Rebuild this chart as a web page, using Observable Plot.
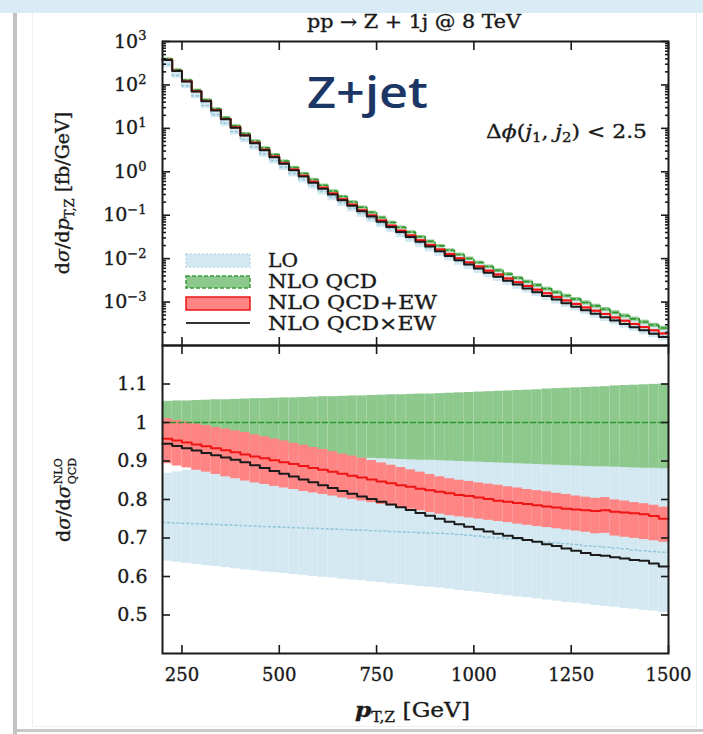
<!DOCTYPE html>
<html><head><meta charset="utf-8">
<script src="https://cdn.jsdelivr.net/npm/d3@7"></script>
<script src="https://cdn.jsdelivr.net/npm/@observablehq/plot@0.6"></script>
<style>
html,body{margin:0;padding:0;background:#fff;}
#wrap{position:relative;width:703px;height:734px;overflow:hidden;background:#fff;}
.band-top{position:absolute;left:0;top:0;width:703px;height:13px;background:#d9ecf6;}
.bar-left{position:absolute;left:13px;top:13px;width:4px;height:721px;background:#c2c2c2;}
.card{position:absolute;left:32px;top:13px;width:663px;height:713px;border:1px solid #efefef;border-top:none;}
.bar-bottom{position:absolute;left:17px;top:729px;width:686px;height:3px;background:#c8c8c8;}
#wrap svg{position:absolute;left:0;}
#wrap svg text{stroke:#1a1a1a;stroke-width:0.35px;}
#wrap svg text.nostroke{stroke:none;}
</style></head><body>
<div id="wrap"><div class="band-top"></div><div class="bar-left"></div><div class="card"></div><div class="bar-bottom"></div></div>
<script>
// ---- data ----
const binEdges = [200,225,250,275,300,325,350,375,400,425,450,475,500,525,550,575,600,625,650,675,700,725,750,775,800,825,850,875,900,925,950,975,1000,1025,1050,1075,1100,1125,1150,1175,1200,1225,1250,1275,1300,1325,1350,1375,1400,1425,1450,1475,1500];
// NLO QCD differential cross section [fb/GeV], per bin
const nloQcd = [398,224,129,75.9,45.7,28.2,17.8,11.5,7.59,5.13,3.55,2.48,1.76,1.26,0.912,0.665,0.489,0.361,0.269,0.202,0.152,0.116,0.0887,0.0682,0.0527,0.0409,0.0319,0.0250,0.0197,0.0156,0.0125,0.0101,0.00815,0.00661,0.00538,0.00440,0.00361,0.00296,0.00245,0.00203,0.00168,0.00140,0.00117,0.000975,0.000817,0.000685,0.000577,0.000486,0.000411,0.000348,0.000296,0.000252];
// ratios to NLO QCD
const ratioNloCentral = [1,1,1,1,1,1,1,1,1,1,1,1,1,1,1,1,1,1,1,1,1,1,1,1,1,1,1,1,1,1,1,1,1,1,1,1,1,1,1,1,1,1,1,1,1,1,1,1,1,1,1,1];
const ratioNloHigh = [1.055,1.056,1.056,1.057,1.058,1.059,1.059,1.060,1.061,1.062,1.062,1.063,1.064,1.064,1.065,1.066,1.067,1.067,1.068,1.069,1.069,1.070,1.071,1.072,1.072,1.073,1.074,1.074,1.075,1.076,1.077,1.078,1.079,1.080,1.081,1.082,1.083,1.084,1.085,1.087,1.088,1.089,1.090,1.091,1.092,1.093,1.095,1.096,1.097,1.098,1.099,1.100];
const ratioNloLow = [0.935,0.933,0.932,0.930,0.929,0.928,0.926,0.925,0.923,0.922,0.920,0.919,0.917,0.916,0.915,0.913,0.912,0.910,0.909,0.908,0.907,0.907,0.906,0.905,0.904,0.903,0.902,0.902,0.901,0.900,0.899,0.898,0.897,0.896,0.895,0.894,0.893,0.892,0.891,0.890,0.889,0.888,0.887,0.886,0.885,0.885,0.884,0.883,0.882,0.881,0.881,0.880];
const ratioLoCentral = [0.740,0.739,0.738,0.737,0.736,0.735,0.734,0.733,0.732,0.731,0.730,0.729,0.728,0.727,0.726,0.725,0.724,0.723,0.722,0.721,0.720,0.719,0.718,0.717,0.716,0.715,0.714,0.713,0.712,0.711,0.709,0.707,0.705,0.702,0.700,0.698,0.696,0.694,0.691,0.689,0.687,0.685,0.683,0.680,0.678,0.676,0.674,0.672,0.669,0.667,0.665,0.663];
const ratioLoHigh = [0.868,0.872,0.876,0.879,0.882,0.885,0.888,0.891,0.894,0.897,0.899,0.901,0.903,0.905,0.906,0.907,0.908,0.909,0.910,0.910,0.911,0.911,0.912,0.912,0.913,0.913,0.913,0.914,0.914,0.914,0.915,0.915,0.915,0.916,0.916,0.916,0.917,0.917,0.917,0.918,0.918,0.918,0.918,0.919,0.919,0.919,0.919,0.920,0.920,0.920,0.920,0.920];
const ratioLoLow = [0.640,0.637,0.634,0.631,0.628,0.626,0.623,0.620,0.617,0.615,0.612,0.610,0.608,0.605,0.603,0.600,0.598,0.596,0.593,0.591,0.589,0.586,0.584,0.581,0.579,0.577,0.574,0.572,0.570,0.567,0.564,0.561,0.559,0.556,0.553,0.550,0.547,0.545,0.542,0.539,0.536,0.533,0.531,0.528,0.525,0.522,0.520,0.517,0.515,0.512,0.510,0.507];
const ratioAddCentral = [0.958,0.953,0.948,0.943,0.938,0.933,0.928,0.923,0.917,0.912,0.907,0.902,0.897,0.892,0.887,0.882,0.877,0.872,0.867,0.862,0.857,0.852,0.847,0.842,0.837,0.833,0.828,0.824,0.820,0.816,0.812,0.809,0.805,0.801,0.797,0.794,0.791,0.788,0.785,0.782,0.779,0.776,0.774,0.772,0.770,0.772,0.768,0.766,0.764,0.762,0.757,0.750];
const ratioAddHigh = [1.010,1.005,1.001,0.996,0.992,0.987,0.983,0.978,0.974,0.968,0.963,0.957,0.952,0.946,0.941,0.935,0.930,0.924,0.918,0.913,0.907,0.901,0.895,0.889,0.883,0.877,0.871,0.865,0.859,0.854,0.850,0.847,0.843,0.840,0.837,0.833,0.830,0.826,0.823,0.820,0.816,0.813,0.809,0.806,0.803,0.805,0.799,0.796,0.792,0.789,0.785,0.780];
const ratioAddLow = [0.893,0.887,0.882,0.876,0.871,0.865,0.859,0.854,0.848,0.843,0.839,0.834,0.830,0.826,0.821,0.817,0.813,0.809,0.804,0.800,0.796,0.792,0.787,0.783,0.779,0.775,0.771,0.766,0.762,0.758,0.755,0.752,0.749,0.746,0.743,0.740,0.736,0.733,0.730,0.727,0.724,0.721,0.718,0.715,0.711,0.712,0.705,0.702,0.699,0.696,0.693,0.689];
const ratioMult = [0.945,0.939,0.933,0.927,0.921,0.915,0.909,0.903,0.897,0.889,0.882,0.874,0.867,0.860,0.852,0.845,0.837,0.830,0.822,0.815,0.808,0.801,0.794,0.787,0.780,0.773,0.765,0.758,0.750,0.742,0.736,0.729,0.723,0.717,0.711,0.706,0.700,0.695,0.690,0.684,0.679,0.673,0.667,0.661,0.656,0.654,0.650,0.647,0.643,0.641,0.634,0.626];
const xTicks = [250,500,750,1000,1250,1500];
const yTicksTop = [1e-3,1e-2,1e-1,1,10,100,1000];
const yTicksBottom = [0.5,0.6,0.7,0.8,0.9,1,1.1];
const legendLabels = ["LO","NLO QCD","NLO QCD+EW","NLO QCD×EW"];

// ---- styling ----
const C = {lo:"#d3e8f0", loLine:"#94c8da", nlo:"#8dc88d", nloLine:"#2f952f", add:"#ff8484", addLine:"#f01515", mult:"#1b1b1b", ink:"#1a1a1a"};
const FONT = "DejaVu Serif";

function bandRows(base, lo, hi){ return lo.map((l,i)=>({x1:binEdges[i], x2:binEdges[i+1], y1: base ? base[i]*l : l, y2: base ? base[i]*hi[i] : hi[i]})); }
function stepRows(base, vals){ return vals.flatMap((v,i)=>{ const y = base ? base[i]*v : v; return [{x:binEdges[i],y},{x:binEdges[i+1],y}]; }); }

const blank = () => "";
// inward ticks on all four edges, drawn by Plot axes shifted into the frame
function xEdgeTicks(vals, len){
  return [
    Plot.axisX({anchor:"bottom", ticks:vals, tickSize:len, dy:-len, tickFormat:blank, label:null, strokeWidth:1.6}),
    Plot.axisX({anchor:"top", ticks:vals, tickSize:len, dy:len, tickFormat:blank, label:null, strokeWidth:1.6})
  ];
}
function yEdgeTicks(vals, len){
  return [
    Plot.axisY({anchor:"left", ticks:vals, tickSize:len, dx:len, tickFormat:blank, label:null, strokeWidth:1.6}),
    Plot.axisY({anchor:"right", ticks:vals, tickSize:len, dx:-len, tickFormat:blank, label:null, strokeWidth:1.6})
  ];
}

const yMinorTop = [];
[1e-4,1e-3,1e-2,1e-1,1,10,100].forEach(p => { for (let k=2;k<10;k++) yMinorTop.push(p*k); });

function bandsAndLines(base){
  return [
    Plot.rect(bandRows(base, ratioLoLow, ratioLoHigh), {x1:"x1",x2:"x2",y1:"y1",y2:"y2",fill:C.lo}),
    Plot.rect(bandRows(base, ratioNloLow, ratioNloHigh), {x1:"x1",x2:"x2",y1:"y1",y2:"y2",fill:C.nlo}),
    Plot.rect(bandRows(base, ratioAddLow, ratioAddHigh), {x1:"x1",x2:"x2",y1:"y1",y2:"y2",fill:C.add}),
    Plot.line(stepRows(base, ratioLoCentral), {x:"x",y:"y",stroke:C.loLine,strokeWidth:1.6,strokeDasharray:"2,3"}),
    Plot.line(stepRows(base, ratioNloCentral), {x:"x",y:"y",stroke:C.nloLine,strokeWidth:1.6,strokeDasharray:"5,3"}),
    Plot.line(stepRows(base, ratioAddCentral), {x:"x",y:"y",stroke:C.addLine,strokeWidth:2}),
    Plot.line(stepRows(base, ratioMult), {x:"x",y:"y",stroke:C.mult,strokeWidth:2})
  ];
}
const style = {fontFamily:FONT, fontSize:"18px", color:C.ink, background:"transparent", overflow:"visible"};

const topPlot = Plot.plot({
  width:703, height:345, marginLeft:162, marginRight:35, marginTop:41, marginBottom:0,
  style,
  x:{domain:[200,1500], axis:null},
  y:{type:"log", domain:[1e-4,1e3], axis:null},
  marks:[
    ...bandsAndLines(nloQcd),
    ...xEdgeTicks(xTicks, 8),
    ...yEdgeTicks(yTicksTop, 8),
    ...yEdgeTicks(yMinorTop, 4),
    Plot.axisY({ticks:yTicksTop, tickSize:0, tickPadding:16, tickFormat:d => "10^" + Math.round(Math.log10(d)), label:null, fontSize:19}),
    Plot.frame({stroke:C.ink, strokeWidth:2})
  ]
});
topPlot.style.top = "0px";
// superscript exponents as real tspans
d3.select(topPlot).selectAll("text").each(function(){
  const t = d3.select(this); const s = t.text(); if (!s.includes("^")) return;
  const [b, e] = s.split("^");
  t.text(b);
  t.append("tspan").attr("dy","-0.55em").attr("font-size","13px").text(e.replace("-","−"));
});

const bottomPlot = Plot.plot({
  width:703, height:389, marginLeft:162, marginRight:35, marginTop:0, marginBottom:81,
  style,
  x:{domain:[200,1500]},
  y:{domain:[0.4,1.2]},
  marks:[
    ...bandsAndLines(null),
    ...xEdgeTicks(xTicks, 8),
    ...yEdgeTicks(yTicksBottom, 8),
    Plot.axisY({ticks:yTicksBottom, tickSize:0, tickPadding:15, tickFormat:d=>String(d), label:null, fontSize:19}),
    Plot.axisX({ticks:xTicks, tickSize:0, tickPadding:15, tickFormat:d=>String(d), label:null, fontSize:18}),
    Plot.frame({stroke:C.ink, strokeWidth:2})
  ]
});
bottomPlot.style.top = "345px";

const wrap = document.getElementById("wrap");
wrap.appendChild(bottomPlot);
wrap.appendChild(topPlot);

// ---- overlay texts & legend ----
const ov = d3.select(wrap).append("svg").attr("width",703).attr("height",734)
  .style("top","0px").style("pointer-events","none")
  .attr("font-family", FONT).attr("fill", C.ink);

ov.append("text").attr("x",414).attr("y",28).attr("text-anchor","middle").attr("font-size",18)
  .attr("textLength",214).attr("lengthAdjust","spacingAndGlyphs")
  .text("pp → Z + 1j @ 8 TeV");

ov.append("text").attr("class","nostroke").attr("x",307).attr("y",108).attr("font-family","Open Sans").attr("font-weight",600)
  .attr("font-size",44).attr("fill","#1c3766").attr("textLength",121).attr("lengthAdjust","spacingAndGlyphs").text("Z+jet");

// Δφ(j1, j2) < 2.5
const dphi = ov.append("text").attr("x",486).attr("y",138).attr("font-size",19)
  .attr("textLength",161).attr("lengthAdjust","spacingAndGlyphs");
dphi.append("tspan").text("Δ");
dphi.append("tspan").attr("font-style","italic").text("ϕ");
dphi.append("tspan").text("(");
dphi.append("tspan").attr("font-style","italic").text("j");
dphi.append("tspan").attr("font-size",13).attr("dy",4).text("1");
dphi.append("tspan").attr("dy",-4).text(", ");
dphi.append("tspan").attr("font-style","italic").text("j");
dphi.append("tspan").attr("font-size",13).attr("dy",4).text("2");
dphi.append("tspan").attr("dy",-4).text(") < 2.5");

// y label top
const yl1 = ov.append("text").attr("transform","translate(69,193) rotate(-90)").attr("text-anchor","middle").attr("font-size",19);
yl1.append("tspan").text("d");
yl1.append("tspan").attr("font-style","italic").text("σ");
yl1.append("tspan").text("/d");
yl1.append("tspan").attr("font-style","italic").text("p");
yl1.append("tspan").attr("font-size",13).attr("dy",5).text("T,Z");
yl1.append("tspan").attr("dy",-5).text(" [fb/GeV]");

// y label bottom
const g2 = ov.append("g");
const m2 = g2.append("text").attr("font-size",19);
m2.append("tspan").text("d");
m2.append("tspan").attr("font-style","italic").text("σ");
m2.append("tspan").text("/d");
m2.append("tspan").attr("font-style","italic").text("σ");
const w2 = m2.node().getComputedTextLength();
g2.append("text").attr("x",w2+1).attr("y",-8).attr("font-size",11).text("NLO");
const q2 = g2.append("text").attr("x",w2+1).attr("y",6).attr("font-size",11).text("QCD");
const tot2 = w2 + 1 + q2.node().getComputedTextLength();
g2.attr("transform",`translate(70,500) rotate(-90) translate(${-tot2/2},0)`);

// x label
const xl = ov.append("text").attr("x",355).attr("y",717).attr("font-size",21)
  .attr("textLength",115).attr("lengthAdjust","spacingAndGlyphs");
xl.append("tspan").attr("font-style","italic").attr("font-weight","bold").text("p");
xl.append("tspan").attr("font-size",14).attr("dy",5).text("T,Z");
xl.append("tspan").attr("dy",-5).text(" [GeV]");

// legend
const lg = ov.append("g").attr("font-size",19);
const sw = [
  {fill:C.lo, stroke:"#b9dbe8", dash:"2,2", y:254, h:13},
  {fill:C.nlo, stroke:"#3c9b3c", dash:"4,2", y:276, h:12},
  {fill:C.add, stroke:"#ee1414", dash:null, y:297, h:13}
];
sw.forEach(s => lg.append("rect").attr("x",186).attr("y",s.y).attr("width",64).attr("height",s.h)
  .attr("fill",s.fill).attr("stroke",s.stroke).attr("stroke-width",1.5).attr("stroke-dasharray",s.dash));
lg.append("line").attr("x1",186).attr("x2",250).attr("y1",323).attr("y2",323).attr("stroke","#333").attr("stroke-width",2);
const legendWidths = [30,109,169,168];
[267,288,309,330].forEach((yb,i) => lg.append("text").attr("x",268).attr("y",yb)
  .attr("textLength",legendWidths[i]).attr("lengthAdjust","spacingAndGlyphs").text(legendLabels[i]));
</script>
</body></html>
